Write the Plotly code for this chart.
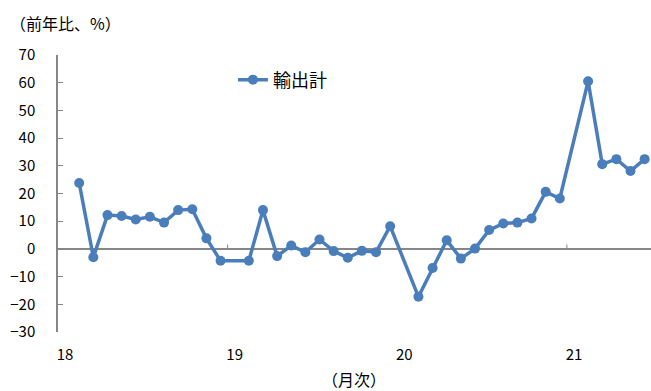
import pandas as pd
import plotly.graph_objects as go

# Exports, year-on-year change (%); January and February are reported together
months = ["2018-02", "2018-03", "2018-04", "2018-05", "2018-06", "2018-07", "2018-08",
          "2018-09", "2018-10", "2018-11", "2018-12",
          "2019-02", "2019-03", "2019-04", "2019-05", "2019-06", "2019-07", "2019-08",
          "2019-09", "2019-10", "2019-11", "2019-12",
          "2020-02", "2020-03", "2020-04", "2020-05", "2020-06", "2020-07", "2020-08",
          "2020-09", "2020-10", "2020-11", "2020-12",
          "2021-02", "2021-03", "2021-04", "2021-05", "2021-06"]
exports_yoy = [23.8, -3.0, 12.2, 11.9, 10.6, 11.6, 9.5, 14.0, 14.3, 3.8, -4.3,
               -4.3, 14.0, -2.6, 1.2, -1.2, 3.4, -0.8, -3.2, -0.7, -1.2, 8.2,
               -17.3, -6.9, 3.1, -3.5, 0.1, 6.8, 9.2, 9.5, 11.0, 20.6, 18.2,
               60.5, 30.6, 32.4, 28.1, 32.4]
year_labels = ["18", "19", "20", "21"]
series_name = "輸出計"

# month slots counted from January 2018, one slot per month
periods = pd.PeriodIndex(months, freq="M")
slot = [(p.year - 2018) * 12 + p.month - 1 for p in periods]
n_slots = 42

font_family = "Noto Sans CJK JP, Noto Sans, sans-serif"
blue = "#4a7ebb"
axis_gray = "#868686"

fig = go.Figure()
fig.add_trace(go.Scatter(
    x=slot, y=exports_yoy, mode="lines+markers", name=series_name,
    line=dict(color=blue, width=3.5),
    marker=dict(color=blue, size=10),
))

# tick marks on the zero line at year boundaries
for k in range(1, len(year_labels)):
    fig.add_shape(type="line", xref="x", yref="y",
                  x0=12 * k - 0.5, x1=12 * k - 0.5, y0=0, y1=1.6,
                  line=dict(color=axis_gray, width=1))

fig.update_layout(
    width=651, height=391,
    margin=dict(l=58, r=0, t=55, b=59),
    paper_bgcolor="white", plot_bgcolor="white",
    font=dict(family=font_family, size=15, color="black"),
    showlegend=True,
    legend=dict(x=0.295, y=0.91, xanchor="left", yanchor="middle",
                bgcolor="rgba(0,0,0,0)", font=dict(size=18)),
    xaxis=dict(range=[-0.5, n_slots - 0.55], showgrid=False, zeroline=False,
               showline=False, ticks="", automargin=False,
               tickvals=[12 * k for k in range(len(year_labels))],
               ticktext=year_labels, ticklabelstandoff=12),
    yaxis=dict(range=[-30, 70], dtick=10, showgrid=False, automargin=False,
               zeroline=True, zerolinecolor=axis_gray, zerolinewidth=1.5,
               showline=True, linecolor=axis_gray, linewidth=1.5,
               ticks="inside", ticklen=5, tickcolor=axis_gray,
               ticklabelstandoff=18),
    annotations=[
        dict(text="（前年比、%）", xref="paper", yref="paper", x=-0.085, y=1.0,
             yanchor="bottom", xanchor="left", showarrow=False,
             yshift=18, font=dict(size=16)),
        dict(text="（月次）", xref="paper", yref="paper", x=0.499, y=0,
             xanchor="center", yanchor="top", showarrow=False, yshift=-34,
             borderpad=0, font=dict(size=16)),
    ],
)

fig.write_html("out.html")
